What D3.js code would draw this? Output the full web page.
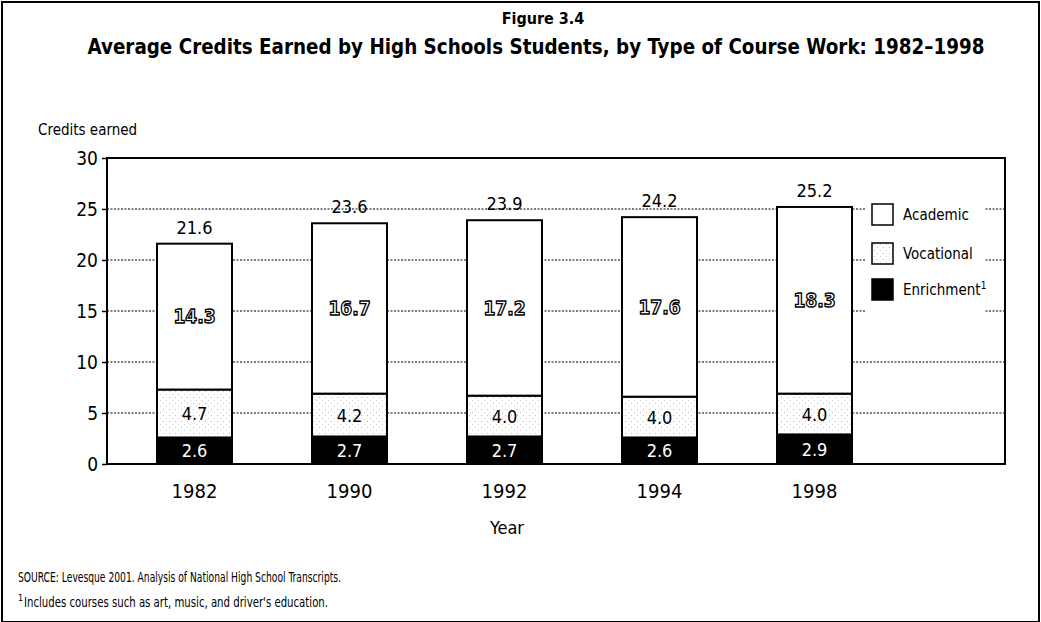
<!DOCTYPE html>
<html>
<head>
<meta charset="utf-8">
<script src="https://cdn.jsdelivr.net/npm/d3@7"></script>
<style>
  body { margin: 0; background: #fff; }
  svg { display: block; font-family: "DejaVu Sans Condensed", "DejaVu Sans", sans-serif; font-stretch: condensed; }
</style>
</head>
<body>
<svg id="chart" width="1041" height="622"></svg>
<script>
const YEARS = ["1982", "1990", "1992", "1994", "1998"];
const ACADEMIC = [14.3, 16.7, 17.2, 17.6, 18.3];
const VOCATIONAL = [4.7, 4.2, 4.0, 4.0, 4.0];
const ENRICHMENT = [2.6, 2.7, 2.7, 2.6, 2.9];
const TOTALS = [21.6, 23.6, 23.9, 24.2, 25.2];
const Y_TICKS = [0, 5, 10, 15, 20, 25, 30];
const SERIES = ["Enrichment", "Vocational", "Academic"];

const svg = d3.select("#chart");
const plotLeft = 107, plotRight = 1005, plotBottom = 464;

const x = d3.scaleBand().domain(YEARS).range([117, 892]).paddingInner(80 / 155).paddingOuter(40 / 155);
const y = d3.scaleLinear().domain([0, 30]).range([plotBottom, 158]);

// stipple pattern for vocational
const defs = svg.append("defs");
const pat = defs.append("pattern").attr("id", "stipple")
  .attr("width", 6).attr("height", 6).attr("patternUnits", "userSpaceOnUse");
pat.append("rect").attr("width", 6).attr("height", 6).attr("fill", "#fff");
pat.append("rect").attr("x", 1).attr("y", 1).attr("width", 1).attr("height", 1).attr("fill", "#bbb");
pat.append("rect").attr("x", 4).attr("y", 4).attr("width", 1).attr("height", 1).attr("fill", "#ccc");

const fills = { Academic: "#fff", Vocational: "url(#stipple)", Enrichment: "#000" };

// outer frame
svg.append("rect").attr("x", 2).attr("y", 2).attr("width", 1037).attr("height", 620)
  .attr("fill", "none").attr("stroke", "#000").attr("stroke-width", 2);

// titles
svg.append("text").attr("x", 543).attr("y", 24).attr("text-anchor", "middle")
  .attr("font-size", 16).attr("font-weight", "bold").text("Figure 3.4");
svg.append("text").attr("x", 536).attr("y", 54).attr("text-anchor", "middle")
  .attr("font-size", 21).attr("font-weight", "bold")
  .attr("textLength", 897).attr("lengthAdjust", "spacingAndGlyphs")
  .text("Average Credits Earned by High Schools Students, by Type of Course Work: 1982\u20131998");

svg.append("text").attr("x", 38).attr("y", 135).attr("font-size", 15).text("Credits earned");

// plot frame
svg.append("rect").attr("x", plotLeft).attr("y", y(30)).attr("width", plotRight - plotLeft)
  .attr("height", plotBottom - y(30)).attr("fill", "#fff").attr("stroke", "#000").attr("stroke-width", 2);

// grid
svg.append("g").selectAll("line").data(Y_TICKS.filter(d => d > 0 && d < 30)).join("line")
  .attr("x1", plotLeft).attr("x2", plotRight).attr("y1", d => y(d)).attr("y2", d => y(d))
  .attr("stroke", "#000").attr("stroke-width", 1).attr("stroke-dasharray", "2,1.5");

// y axis
const yAxis = svg.append("g").attr("transform", `translate(${plotLeft},0)`)
  .call(d3.axisLeft(y).tickValues(Y_TICKS).tickSize(5).tickPadding(4));
yAxis.select(".domain").remove();
yAxis.selectAll("line").attr("stroke-width", 1.5);
yAxis.selectAll("text").attr("font-size", 19).attr("fill", "#000");
yAxis.attr("font-family", null);

// stacked bars
const rows = YEARS.map((yr, i) => ({ year: yr, Academic: ACADEMIC[i], Vocational: VOCATIONAL[i], Enrichment: ENRICHMENT[i] }));
const stacked = d3.stack().keys(SERIES)(rows);

const barG = svg.append("g");
stacked.forEach(layer => {
  barG.append("g").selectAll("rect").data(layer).join("rect")
    .attr("x", d => x(d.data.year))
    .attr("width", x.bandwidth())
    .attr("y", d => y(d[1]))
    .attr("height", d => y(d[0]) - y(d[1]))
    .attr("fill", fills[layer.key])
    .attr("stroke", "#000").attr("stroke-width", 2);
});

// segment labels
stacked.forEach(layer => {
  const isAcad = layer.key === "Academic";
  barG.append("g").selectAll("text").data(layer).join("text")
    .attr("x", d => x(d.data.year) + x.bandwidth() / 2)
    .attr("y", d => y((d[0] + d[1]) / 2))
    .attr("dy", "0.36em")
    .attr("text-anchor", "middle")
    .attr("font-size", isAcad ? 19 : 18)
    .attr("font-weight", isAcad ? "bold" : "normal")
    .attr("fill", layer.key === "Vocational" ? "#000" : "#fff")
    .attr("stroke", isAcad ? "#000" : "none")
    .attr("stroke-width", 1.3)
    .text(d => (d[1] - d[0]).toFixed(1));
});

// totals
barG.append("g").selectAll("text").data(YEARS).join("text")
  .attr("x", d => x(d) + x.bandwidth() / 2)
  .attr("y", (d, i) => y(TOTALS[i]) - 10)
  .attr("text-anchor", "middle").attr("font-size", 18)
  .text((d, i) => TOTALS[i].toFixed(1));

// x labels
svg.append("g").selectAll("text").data(YEARS).join("text")
  .attr("x", d => x(d) + x.bandwidth() / 2)
  .attr("y", 498).attr("text-anchor", "middle").attr("font-size", 20)
  .text(d => d);
svg.append("text").attr("x", 507).attr("y", 534).attr("text-anchor", "middle")
  .attr("font-size", 18).text("Year");

// legend
const legend = svg.append("g");
legend.append("rect").attr("x", 866).attr("y", 195).attr("width", 119).attr("height", 122).attr("fill", "#fff");
const legItems = [
  { key: "Academic", label: "Academic", y: 204 },
  { key: "Vocational", label: "Vocational", y: 243 },
  { key: "Enrichment", label: "Enrichment", y: 279 }
];
legItems.forEach(d => {
  legend.append("rect").attr("x", 872).attr("y", d.y).attr("width", 21).attr("height", 21)
    .attr("fill", fills[d.key]).attr("stroke", "#000").attr("stroke-width", 1.5);
  const t = legend.append("text").attr("x", 903).attr("y", d.y + 16).attr("font-size", 15).text(d.label);
  if (d.key === "Enrichment") t.append("tspan").attr("dy", -6).attr("font-size", 10).text("1");
});

// source notes
svg.append("text").attr("x", 18).attr("y", 582).attr("font-size", 14)
  .attr("textLength", 323).attr("lengthAdjust", "spacingAndGlyphs")
  .text("SOURCE: Levesque 2001. Analysis of National High School Transcripts.");
svg.append("text").attr("x", 18).attr("y", 601).attr("font-size", 9).text("1");
svg.append("text").attr("x", 24).attr("y", 607).attr("font-size", 14)
  .attr("textLength", 304).attr("lengthAdjust", "spacingAndGlyphs")
  .text("Includes courses such as art, music, and driver's education.");
</script>
</body>
</html>
